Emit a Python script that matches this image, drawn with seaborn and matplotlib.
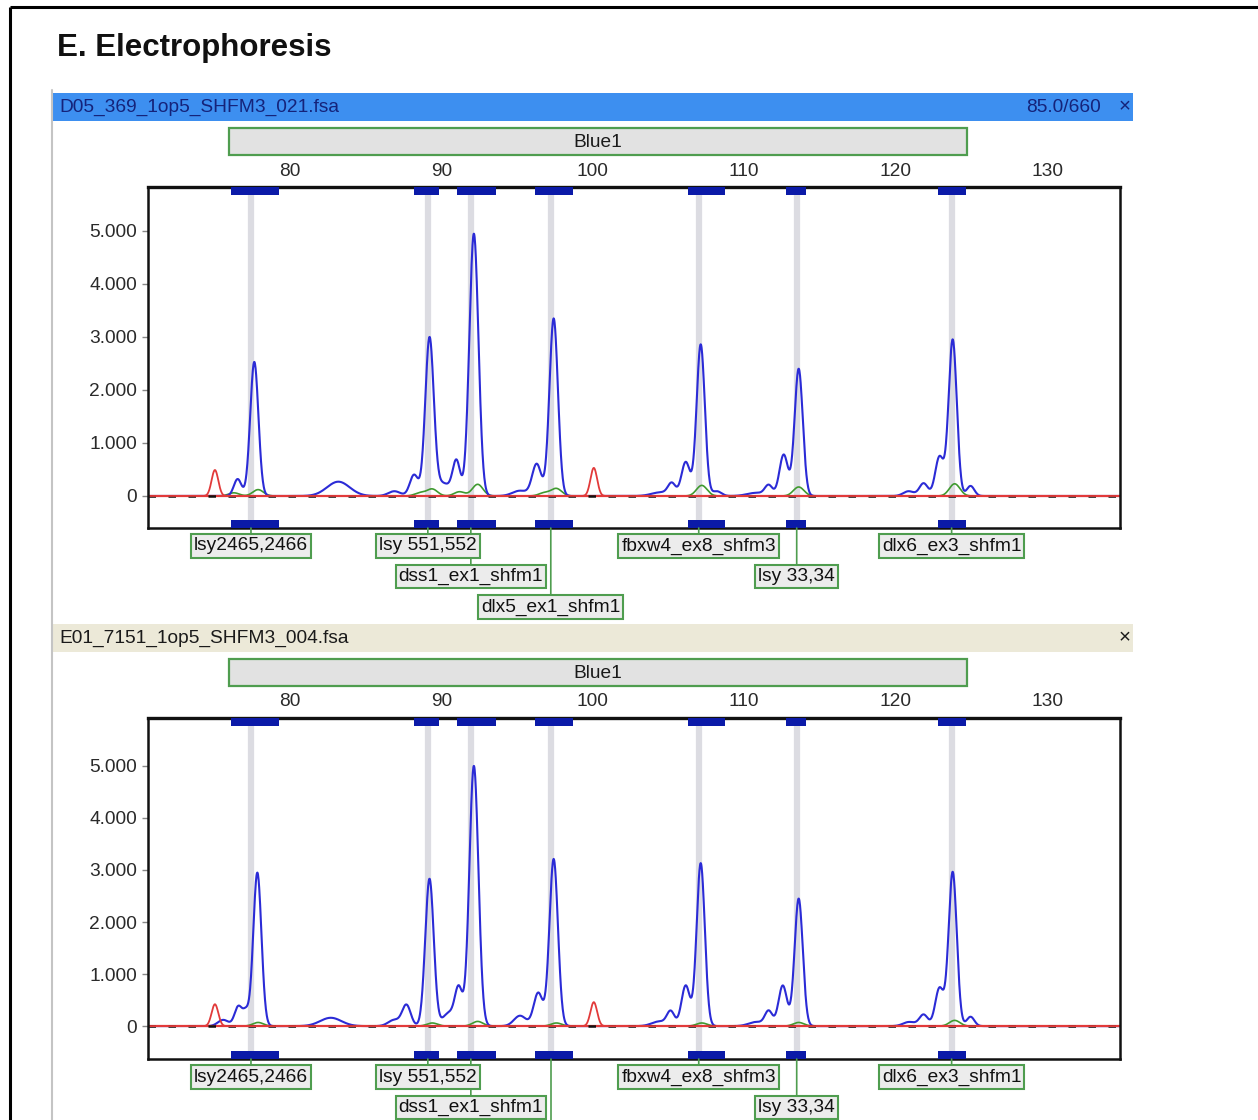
import numpy as np
import pandas as pd
import matplotlib
matplotlib.use("Agg")
import matplotlib.pyplot as plt
import matplotlib.transforms as mtransforms
from matplotlib.patches import Rectangle
import seaborn as sns

# ---------------- data ----------------
TITLE = "E. Electrophoresis"
SAMPLE_NAMES = ["D05_369_1op5_SHFM3_021.fsa", "E01_7151_1op5_SHFM3_004.fsa"]
HEADER_INFO = ["85.0/660", ""]
DYE_NAME = "Blue1"
BLUE1_RANGE = (76.0, 124.7)
X_RANGE = (70.63, 134.82)
Y_RANGES = [(-604, 5830), (-632, 5920)]
X_TICKS = [80, 90, 100, 110, 120, 130]
Y_TICKS = [0, 1000, 2000, 3000, 4000, 5000]

BIN_CENTERS = [77.43, 89.11, 91.95, 97.23, 107.0, 113.47, 123.70]
BIN_LO = [76.11, 88.19, 91.03, 96.17, 106.27, 112.74, 122.78]
BIN_HI = [79.28, 89.84, 93.60, 98.68, 108.72, 114.06, 124.63]
BIN_LABELS = ["lsy2465,2466", "lsy 551,552", "dss1_ex1_shfm1", "dlx5_ex1_shfm1",
              "fbxw4_ex8_shfm3", "lsy 33,34", "dlx6_ex3_shfm1"]
BIN_ROW = [0, 0, 1, 2, 0, 1, 0]

# panel 1 peaks (size in bp, height in RFU, width sigma in bp)
P1_BLUE_POS = [76.55, 77.65, 83.2, 86.9, 88.2, 89.22, 90.1, 91.0, 92.15, 95.2, 96.3, 97.42,
               104.5, 105.22, 106.14, 107.13, 108.19, 110.8, 111.62, 112.61, 113.6,
               120.86, 121.85, 122.9, 123.77, 124.95]
P1_BLUE_H = [320, 2530, 270, 90, 400, 2950, 240, 640, 4950, 100, 600, 3350,
             70, 220, 640, 2860, 90, 60, 190, 780, 2400,
             90, 240, 740, 2950, 190]
P1_BLUE_W = [0.25, 0.27, 0.75, 0.4, 0.28, 0.28, 0.5, 0.25, 0.3, 0.5, 0.3, 0.28,
             0.6, 0.25, 0.28, 0.27, 0.3, 0.6, 0.25, 0.28, 0.27,
             0.35, 0.28, 0.28, 0.27, 0.25]
P1_GREEN_POS = [76.3, 77.9, 88.6, 89.4, 91.2, 92.4, 96.8, 97.6, 107.2, 113.6, 123.9]
P1_GREEN_H = [60, 120, 60, 130, 80, 220, 60, 140, 200, 170, 230]
P1_RED_POS = [75.05, 100.07]
P1_RED_H = [490, 530]

# panel 2 peaks
P2_BLUE_POS = [75.6, 76.6, 77.1, 77.85, 82.7, 86.9, 87.7, 89.22, 90.5, 91.15, 92.15, 95.2, 96.4, 97.42,
               104.4, 105.15, 106.14, 107.13, 110.8, 111.62, 112.55, 113.6,
               120.9, 121.85, 122.9, 123.77, 124.95]
P2_BLUE_H = [120, 380, 250, 2950, 160, 120, 400, 2830, 250, 700, 5000, 200, 640, 3210,
             90, 270, 780, 3130, 80, 280, 780, 2450,
             80, 220, 730, 2960, 180]
P2_BLUE_W = [0.35, 0.25, 0.2, 0.27, 0.7, 0.4, 0.28, 0.28, 0.4, 0.25, 0.3, 0.4, 0.3, 0.28,
             0.5, 0.25, 0.28, 0.27, 0.5, 0.25, 0.28, 0.27,
             0.4, 0.28, 0.28, 0.27, 0.25]
P2_GREEN_POS = [77.9, 89.4, 92.4, 97.6, 107.2, 113.6, 123.9]
P2_GREEN_H = [70, 60, 90, 60, 60, 70, 110]
P2_RED_POS = [75.05, 100.07]
P2_RED_H = [420, 460]

PANELS = [
    dict(blue=(P1_BLUE_POS, P1_BLUE_H, P1_BLUE_W), green=(P1_GREEN_POS, P1_GREEN_H),
         red=(P1_RED_POS, P1_RED_H)),
    dict(blue=(P2_BLUE_POS, P2_BLUE_H, P2_BLUE_W), green=(P2_GREEN_POS, P2_GREEN_H),
         red=(P2_RED_POS, P2_RED_H)),
]

# ---------------- style ----------------
sns.set_theme(style="white")
plt.rcParams["font.family"] = ["Liberation Sans", "DejaVu Sans"]

W, H = 1258, 1120
fig = plt.figure(figsize=(W / 100, H / 100), dpi=100)
fig.patch.set_facecolor("white")

bg = fig.add_axes([0, 0, 1, 1], zorder=0)
bg.set_xlim(0, W)
bg.set_ylim(H, 0)
bg.axis("off")

# outer frame and window edge
bg.plot([10, W], [7, 7], color="black", lw=2.2, solid_capstyle="butt")
bg.plot([10, 10], [7, H], color="black", lw=2.2, solid_capstyle="butt")
bg.plot([52, 52], [90, H], color="#c4c4c4", lw=1.5)
bg.text(57, 48, TITLE, fontsize=22.5, fontweight="bold", color="#111111", va="center", ha="left")

TXT = 13.8
GREEN_EDGE = "#4f9d4f"
BOX_FACE = "#ececec"
BLUE_BIN = "#0b1aa8"
HEADER_TOPS = [93, 624]
HEADER_COLORS = ["#3d8ff0", "#ece9d8"]
HEADER_TEXT = ["#15237a", "#1a1a1a"]


def gauss_sum(x, pos, h, w):
    y = np.zeros_like(x)
    for p, a, s in zip(pos, h, w):
        y += a * np.exp(-0.5 * ((x - p) / s) ** 2)
    return y


xs = np.linspace(X_RANGE[0], X_RANGE[1], 3200)

for i, (htop, panel) in enumerate(zip(HEADER_TOPS, PANELS)):
    # header bar
    bg.add_patch(Rectangle((52, htop), 1081, 28, fc=HEADER_COLORS[i], ec="none"))
    bg.text(59, htop + 14, SAMPLE_NAMES[i], fontsize=TXT, color=HEADER_TEXT[i], va="center", ha="left")
    if HEADER_INFO[i]:
        bg.text(1101, htop + 14, HEADER_INFO[i], fontsize=TXT, color=HEADER_TEXT[i], va="center", ha="right")
    bg.text(1125, htop + 14, "×", fontsize=TXT + 1, color=HEADER_TEXT[i], va="center", ha="center")

    ptop, pbot = htop + 94, htop + 435
    ax = fig.add_axes([148 / W, 1 - pbot / H, 972 / W, (pbot - ptop) / H], zorder=2)
    ax.set_facecolor("white")
    ax.set_xlim(*X_RANGE)
    ax.set_ylim(*Y_RANGES[i])
    ph = pbot - ptop

    # bin markers
    for c, lo, hi in zip(BIN_CENTERS, BIN_LO, BIN_HI):
        ax.axvline(c, color="#dcdce2", lw=4.5, zorder=0.5)
        ax.axvspan(lo, hi, ymin=1 - 8 / ph, ymax=1, color=BLUE_BIN, lw=0, zorder=3)
        ax.axvspan(lo, hi, ymin=0, ymax=8 / ph, color=BLUE_BIN, lw=0, zorder=3)

    # traces
    bpos, bh, bw = panel["blue"]
    gpos, gh = panel["green"]
    rpos, rh = panel["red"]
    df = pd.DataFrame({
        "size": np.concatenate([xs, xs, xs]),
        "rfu": np.concatenate([
            gauss_sum(xs, rpos, rh, [0.22] * len(rpos)),
            gauss_sum(xs, gpos, gh, [0.35] * len(gpos)),
            gauss_sum(xs, bpos, bh, bw),
        ]),
        "dye": ["red"] * len(xs) + ["green"] * len(xs) + ["blue"] * len(xs),
    })
    sns.lineplot(data=df[df.dye == "green"], x="size", y="rfu", color="#3f9a2f", lw=1.2, ax=ax, zorder=2)
    sns.lineplot(data=df[df.dye == "blue"], x="size", y="rfu", color="#2b2bd6", lw=1.5, ax=ax, zorder=2.2)
    base = pd.DataFrame({"size": [X_RANGE[0], X_RANGE[1]], "rfu": [0, 0]})
    sns.lineplot(data=base, x="size", y="rfu", color="#e23a3a", lw=1.6, ax=ax, zorder=2.3)
    ax.plot([X_RANGE[0], X_RANGE[1]], [0, 0], color="#111111", lw=1.8, dashes=(3, 5), zorder=2.35)
    sns.lineplot(data=df[df.dye == "red"], x="size", y="rfu", color="#e23a3a", lw=1.3, ax=ax, zorder=2.4)

    ax.set_xlabel("")
    ax.set_ylabel("")
    # axes styling
    for sp in ax.spines.values():
        sp.set_visible(True)
        sp.set_color("#111111")
        sp.set_linewidth(1.8)
    ax.spines["top"].set_linewidth(2.4)
    ax.xaxis.tick_top()
    ax.set_xticks(X_TICKS)
    ax.set_xticklabels([str(t) for t in X_TICKS])
    ax.set_yticks(Y_TICKS)
    ax.set_yticklabels([f"{t:,}".replace(",", ".") for t in Y_TICKS])
    ax.tick_params(axis="x", length=0, pad=5.4, labelsize=TXT, colors="#2a2a2a")
    ax.tick_params(axis="y", length=4, width=1, pad=4, labelsize=TXT, colors="#2a2a2a",
                   left=True, color="#888888")
    ax.grid(False)

    # Blue1 dye bar above the axis
    trans = mtransforms.blended_transform_factory(ax.transData, ax.transAxes)
    y0 = (pbot - (htop + 62)) / ph
    y1 = (pbot - (htop + 35)) / ph
    ax.add_patch(Rectangle((BLUE1_RANGE[0], y0), BLUE1_RANGE[1] - BLUE1_RANGE[0], y1 - y0,
                           transform=trans, fc="#e2e2e2", ec=GREEN_EDGE, lw=1.6, clip_on=False))
    ax.text((BLUE1_RANGE[0] + BLUE1_RANGE[1]) / 2 - 0.05, (y0 + y1) / 2 - 0.004, DYE_NAME, transform=trans,
            ha="center", va="center", fontsize=TXT, color="#1a1a1a")

    # bin labels below the axis
    order = sorted(range(len(BIN_LABELS)), key=lambda k: -BIN_ROW[k])
    for k in order:
        row = BIN_ROW[k]
        off = 18 + 30.5 * row
        if pbot + off - 12 > H:
            # label lies below the picture's edge: only its connector shows
            ax.plot([BIN_CENTERS[k], BIN_CENTERS[k]], [0, -(off - 12) / ph], transform=trans,
                    color=GREEN_EDGE, lw=1.2, clip_on=False, zorder=5)
            continue
        ax.annotate(BIN_LABELS[k], xy=(BIN_CENTERS[k], 0), xycoords=trans,
                    xytext=(0, -off), textcoords="offset pixels",
                    ha="center", va="center", fontsize=TXT, color="#111111",
                    bbox=dict(boxstyle="square,pad=0.16", fc=BOX_FACE, ec=GREEN_EDGE, lw=1.5),
                    arrowprops=dict(arrowstyle="-", color=GREEN_EDGE, lw=1.2, shrinkA=0, shrinkB=0),
                    annotation_clip=False, zorder=10 - row)

fig.savefig("out.png", dpi=100, facecolor="white")
